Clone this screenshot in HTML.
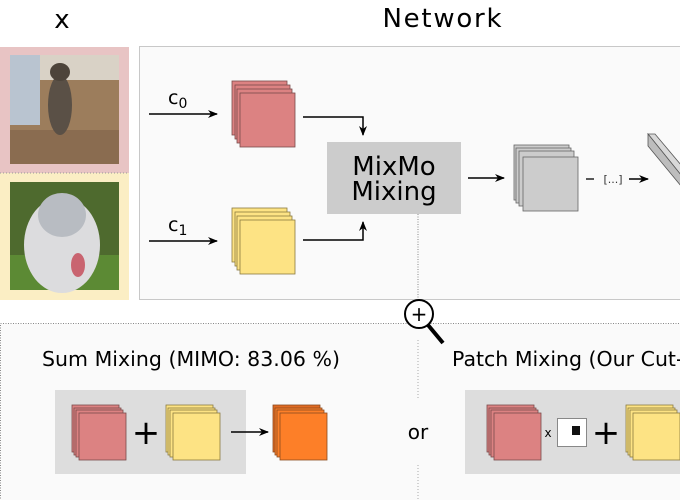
<!DOCTYPE html>
<html><head><meta charset="utf-8"><style>
html,body{margin:0;padding:0;background:#fff;}
svg{display:block;font-family:"DejaVu Sans","Liberation Sans",sans-serif;}
</style></head><body>
<svg width="680" height="500" viewBox="0 0 680 500" xmlns="http://www.w3.org/2000/svg">
<defs>
<marker id="ah" markerWidth="10" markerHeight="8" refX="9" refY="4" orient="auto" markerUnits="userSpaceOnUse">
<path d="M0,0 L10,4 L0,8 L3,4 Z" fill="#000"/></marker>
</defs>
<text x="62" y="28" font-size="26" text-anchor="middle">x</text>
<text x="442" y="27" font-size="26" text-anchor="middle" textLength="119">Network</text>

<!-- image panels -->
<rect x="0" y="47" width="129" height="126" fill="#e8c4c4"/>
<rect x="0" y="173" width="129" height="127" fill="#fbeec4"/>
<line x1="0" y1="173" x2="129" y2="173" stroke="#999" stroke-dasharray="1,2"/>
<!-- cat -->
<rect x="10" y="55" width="109" height="109" fill="#9c7d5c"/>
<rect x="10" y="55" width="30" height="70" fill="#b9c4d0"/>
<rect x="40" y="55" width="79" height="25" fill="#d9d2c6"/>
<rect x="10" y="130" width="109" height="34" fill="#8a6c50"/>
<ellipse cx="60" cy="105" rx="12" ry="30" fill="#5a5046"/>
<ellipse cx="60" cy="72" rx="10" ry="9" fill="#4d443a"/>
<!-- dog -->
<rect x="10" y="182" width="109" height="108" fill="#4e6a2e"/>
<rect x="10" y="255" width="109" height="35" fill="#5c8a34"/>
<ellipse cx="62" cy="245" rx="38" ry="48" fill="#dcdcde"/>
<ellipse cx="62" cy="215" rx="24" ry="22" fill="#b8bcc2"/>
<ellipse cx="78" cy="265" rx="7" ry="12" fill="#c96470"/>

<!-- network box -->
<rect x="139.5" y="46.5" width="541" height="253" fill="#fafafa" stroke="#c8c8c8"/>
<text x="168" y="104" font-size="19">c<tspan font-size="14" dy="4">0</tspan></text>
<line x1="149" y1="114" x2="217" y2="114" stroke="#000" stroke-width="1.5" marker-end="url(#ah)"/>
<text x="168" y="231" font-size="19">c<tspan font-size="14" dy="4">1</tspan></text>
<line x1="149" y1="241" x2="217" y2="241" stroke="#000" stroke-width="1.5" marker-end="url(#ah)"/>

<g stroke="#7a4a4a" stroke-width="0.8" fill="#dc8282">
<rect x="232" y="81" width="55" height="54"/><rect x="235" y="85" width="55" height="54"/><rect x="237" y="89" width="55" height="54"/><rect x="240" y="93" width="55" height="54"/>
</g>
<g stroke="#8a7a40" stroke-width="0.8" fill="#fde384">
<rect x="232" y="208" width="55" height="54"/><rect x="235" y="212" width="55" height="54"/><rect x="237" y="216" width="55" height="54"/><rect x="240" y="220" width="55" height="54"/>
</g>
<polyline points="303,117 363,117 363,135" fill="none" stroke="#000" stroke-width="1.5" marker-end="url(#ah)"/>
<polyline points="303,240 363,240 363,222" fill="none" stroke="#000" stroke-width="1.5" marker-end="url(#ah)"/>
<rect x="327" y="142" width="134" height="72" fill="#cccccc"/>
<text x="394" y="175" font-size="26" text-anchor="middle">MixMo</text>
<text x="394" y="200" font-size="26" text-anchor="middle">Mixing</text>
<line x1="468" y1="178" x2="504" y2="178" stroke="#000" stroke-width="1.5" marker-end="url(#ah)"/>
<g stroke="#666" stroke-width="0.8" fill="#cccccc">
<rect x="514" y="145" width="55" height="55"/><rect x="516" y="148" width="55" height="55"/><rect x="519" y="151" width="55" height="55"/><rect x="523" y="157" width="55" height="54"/>
</g>
<line x1="586" y1="179" x2="594" y2="179" stroke="#000" stroke-width="1.3"/>
<text x="613" y="183" font-size="11" text-anchor="middle" fill="#333">[...]</text>
<line x1="629" y1="179" x2="648" y2="179" stroke="#000" stroke-width="1.5" marker-end="url(#ah)"/>
<g stroke="#555" stroke-width="0.8">
<polygon points="648,134 655,134 681,165 681,175" fill="#d8d8d8"/>
<polygon points="648,134 648,146 681,186 681,175" fill="#bdbdbd"/>
</g>
<line x1="418" y1="214" x2="418" y2="300" stroke="#888" stroke-dasharray="1,1.5"/>

<!-- bottom panel -->
<rect x="0.5" y="323.5" width="690" height="190" fill="#fafafa" stroke="#888" stroke-dasharray="1,1.5"/>
<line x1="418" y1="340" x2="418" y2="398" stroke="#aaa" stroke-dasharray="1,2"/>
<line x1="418" y1="465" x2="418" y2="500" stroke="#aaa" stroke-dasharray="1,2"/>
<line x1="428" y1="325" x2="443" y2="343" stroke="#000" stroke-width="4"/>
<circle cx="419" cy="314" r="14" fill="#fff" stroke="#000" stroke-width="2"/>
<text x="419" y="321" font-size="20" text-anchor="middle">+</text>

<text x="42" y="366" font-size="20.5" textLength="298">Sum Mixing (MIMO: 83.06 %)</text>
<rect x="55" y="390" width="191" height="84" fill="#dddddd"/>
<g stroke="#7a4a4a" stroke-width="0.8" fill="#dc8282">
<rect x="72" y="405" width="47" height="47"/><rect x="74" y="408" width="47" height="47"/><rect x="76" y="410" width="47" height="47"/><rect x="79" y="413" width="47" height="47"/>
</g>
<text x="146" y="444" font-size="34" text-anchor="middle">+</text>
<g stroke="#8a7a40" stroke-width="0.8" fill="#fde384">
<rect x="166" y="405" width="47" height="47"/><rect x="168" y="408" width="47" height="47"/><rect x="170" y="410" width="47" height="47"/><rect x="173" y="413" width="47" height="47"/>
</g>
<line x1="231" y1="432" x2="268" y2="432" stroke="#000" stroke-width="1.5" marker-end="url(#ah)"/>
<g stroke="#8a4a20" stroke-width="0.8" fill="#fd7f28">
<rect x="273" y="405" width="47" height="47" fill="#e06a22"/><rect x="275" y="408" width="47" height="47"/><rect x="277" y="410" width="47" height="47"/><rect x="280" y="413" width="47" height="47"/>
</g>
<text x="418" y="439" font-size="20" text-anchor="middle">or</text>

<text x="452" y="366" font-size="20.5">Patch Mixing (Our Cut-MixMo: 85.40 %)</text>
<rect x="465" y="390" width="230" height="84" fill="#dddddd"/>
<g stroke="#7a4a4a" stroke-width="0.8" fill="#dc8282">
<rect x="487" y="405" width="47" height="47"/><rect x="489" y="408" width="47" height="47"/><rect x="491" y="410" width="47" height="47"/><rect x="494" y="413" width="47" height="47"/>
</g>
<text x="548" y="437" font-size="12" text-anchor="middle">x</text>
<rect x="557.5" y="418.5" width="29" height="28" fill="#fff" stroke="#888"/>
<rect x="572" y="426" width="8" height="9" fill="#111"/>
<text x="606" y="444" font-size="34" text-anchor="middle">+</text>
<g stroke="#8a7a40" stroke-width="0.8" fill="#fde384">
<rect x="626" y="405" width="47" height="47"/><rect x="628" y="408" width="47" height="47"/><rect x="630" y="410" width="47" height="47"/><rect x="633" y="413" width="47" height="47"/>
</g>
</svg>
</body></html>
